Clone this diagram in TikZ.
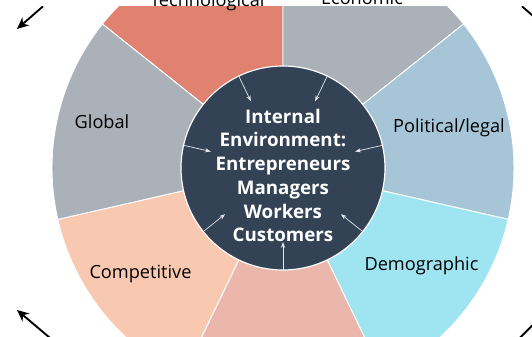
\documentclass[tikz,border=0pt]{standalone}
\usepackage{fontspec}
\setmainfont{Open Sans}
\usetikzlibrary{arrows.meta}
\usetikzlibrary{positioning}

\definecolor{techred}{HTML}{E0826F}
\definecolor{econgrey}{HTML}{ABB1B9}
\definecolor{polblue}{HTML}{A6C6D8}
\definecolor{demcyan}{HTML}{9EE5F1}
\definecolor{sociopink}{HTML}{EBB7AD}
\definecolor{comppeach}{HTML}{F9C8B1}
\definecolor{coreblue}{HTML}{344256}
\definecolor{pointer}{HTML}{E2E6EC}

\tikzset{
  sector/.style={draw=white,line width=0.8pt},
  forcelabel/.style={font=\fontsize{15.5}{18}\selectfont,text=black},
  inarrow/.style={pointer,line width=0.6pt,-{Stealth[length=5pt,width=3.6pt]}},
  outarrow/.style={black,line width=1.6pt,-{Stealth[length=10pt,width=9pt]}}
}

\begin{document}
\begin{tikzpicture}
\useasboundingbox (-8.49,-5.07) rectangle (7.47,5.04);

\begin{scope}
\clip (-8.49,-5.07) rectangle (7.47,4.845);
\draw[sector,fill=techred] (0,0) -- (90:6.93) arc (90:141.43:6.93) -- cycle;
\draw[sector,fill=econgrey] (0,0) -- (38.57:6.93) arc (38.57:90:6.93) -- cycle;
\draw[sector,fill=polblue] (0,0) -- (-12.86:6.93) arc (-12.86:38.57:6.93) -- cycle;
\draw[sector,fill=demcyan] (0,0) -- (-64.29:6.93) arc (-64.29:-12.86:6.93) -- cycle;
\draw[sector,fill=sociopink] (0,0) -- (-115.71:6.93) arc (-115.71:-64.29:6.93) -- cycle;
\draw[sector,fill=comppeach] (0,0) -- (-167.14:6.93) arc (-167.14:-115.71:6.93) -- cycle;
\draw[sector,fill=econgrey] (0,0) -- (141.43:6.93) arc (141.43:192.86:6.93) -- cycle;

\draw[fill=coreblue,draw=white,line width=1pt] (0,0) circle (3.06);

% arrows leading out of the crop
\coordinate (tlA) at (-7.2,4.85);
\coordinate (tlB) at (-7.98,4.17);
\draw[outarrow] (tlA) -- (tlB);
\coordinate (trA) at (7.17,4.85);
\coordinate (trB) at (7.95,4.17);
\draw[outarrow] (trA) -- (trB);
\coordinate (blA) at (-6.93,-5.15);
\coordinate (blB) at (-7.98,-4.26);
\draw[outarrow] (blA) -- (blB);
\coordinate (brA) at (7.05,-5.15);
\coordinate (brB) at (7.95,-4.26);
\draw[outarrow] (brA) -- (brB);
\end{scope}

\node[forcelabel] (tech) at (-2.27,4.98) {Technological};
\node[forcelabel] (econ) at (2.37,5.1) {Economic};
\node[forcelabel] (pol) at (4.98,1.2) {Political/legal};
\node[forcelabel] (dem) at (4.155,-2.94) {Demographic};
\node[forcelabel] (comp) at (-4.275,-3.18) {Competitive};
\node[forcelabel] (glob) at (-5.43,1.38) {Global};

\node[align=center,text=white,font=\bfseries\fontsize{16}{20.3}\selectfont] (core) at (0,-0.225)
  {Internal\\Environment:\\Entrepreneurs\\Managers\\Workers\\Customers};

\foreach \ang [count=\i] in {115.71,64.29,12.86,-38.57,-90,-141.43,167.14} {
  \coordinate (rim\i) at (\ang:3.06);
  \coordinate (tip\i) at (\ang:2.22);
  \draw[inarrow] (rim\i) -- (tip\i);
}

\end{tikzpicture}
\end{document}
